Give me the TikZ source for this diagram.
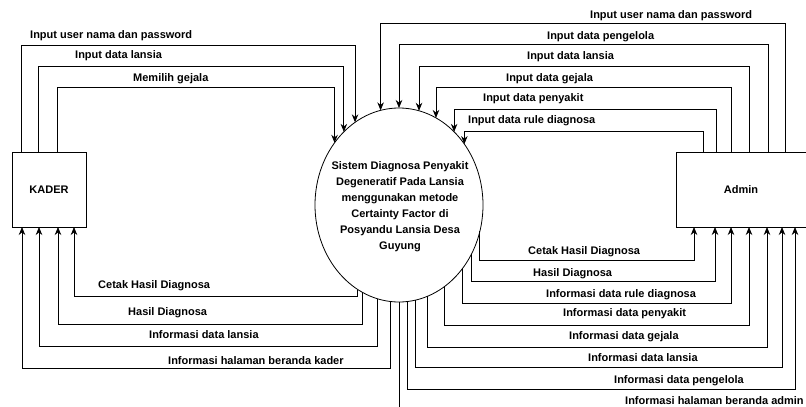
\documentclass[tikz,border=0pt]{standalone}
\usepackage{fontspec}
\setmainfont{Liberation Sans}
\usetikzlibrary{shapes.geometric,arrows.meta}
\begin{document}
\begin{tikzpicture}[x=1pt,y=-1pt,
  conn/.style={line width=0.8pt},
  arr/.style={conn,-{Stealth[length=8pt,width=6.5pt]}},
  lbl/.style={font=\fontsize{11}{13}\selectfont\bfseries, anchor=mid west, inner sep=0pt},
  entity/.style={draw, line width=0.8pt, inner sep=0pt, outer sep=0pt, minimum height=75pt,
    font=\fontsize{11}{13}\selectfont\bfseries},
  process/.style={draw, ellipse, line width=0.8pt, inner sep=0pt, outer sep=0pt,
    minimum width=168pt, minimum height=194pt},
  proctext/.style={font=\fontsize{11}{16}\selectfont\bfseries, align=center, inner sep=0pt}
]
\useasboundingbox (0,0) rectangle (806,407);

% nodes
\node[entity, minimum width=74pt] (kader) at (49,189.5) {KADER};
\node[entity, minimum width=130pt] (admin) at (741,189.5) {Admin};
\node[process] (ell) at (399,205) {};
\node[proctext] (elltxt) at (400,207) {Sistem Diagnosa Penyakit\\Degeneratif Pada Lansia\\menggunakan metode\\Certainty Factor di\\Posyandu Lansia Desa\\Guyung};
\coordinate (bottomend) at (399,407);

% KADER -> process
\draw[arr] ([xshift=9pt]kader.north west) -- ++(0,-107) -| (ell.118.8);
\draw[arr] ([xshift=26pt]kader.north west) -- ++(0,-86) -| (ell.127.8);
\draw[arr] ([xshift=45pt]kader.north west) -- ++(0,-65) -| (ell.136.6);
\node[lbl] (l1) at (30,36) {Input user nama dan password};
\node[lbl] (l2) at (75,56) {Input data lansia};
\node[lbl] (l3) at (133,79) {Memilih gejala};

% Admin -> process
\draw[arr] ([xshift=109pt]admin.north west) -- ++(0,-129) -| (ell.101.4);
\draw[arr] ([xshift=92pt]admin.north west) -- ++(0,-108) -| (ell.north);
\draw[arr] ([xshift=73pt]admin.north west) -- ++(0,-86) -| (ell.78.6);
\draw[arr] ([xshift=55pt]admin.north west) -- ++(0,-65) -| (ell.67.0);
\draw[arr] ([xshift=40pt]admin.north west) -- ++(0,-43) -| (ell.53.1);
\draw[arr] ([xshift=27pt]admin.north west) -- ++(0,-21) -| (ell.43.4);
\node[lbl] (r1) at (590,16) {Input user nama dan password};
\node[lbl] (r2) at (547,37) {Input data pengelola};
\node[lbl] (r3) at (527,57) {Input data lansia};
\node[lbl] (r4) at (506,79) {Input data gejala};
\node[lbl] (r5) at (483,99) {Input data penyakit};
\node[lbl] (r6) at (468,121) {Input data rule diagnosa};

% process -> KADER
\draw[arr] (ell.244.9) -- (ell.244.9 |- 0,296) -| ([xshift=62pt]kader.south west);
\draw[arr] (ell.247.7) -- (ell.247.7 |- 0,324) -| ([xshift=46pt]kader.south west);
\draw[arr] (ell.257.4) -- (ell.257.4 |- 0,346) -| ([xshift=27pt]kader.south west);
\draw[arr] (ell.265.3) -- (ell.265.3 |- 0,368) -| ([xshift=10pt]kader.south west);
\node[lbl] (b1) at (98,286) {Cetak Hasil Diagnosa};
\node[lbl] (b2) at (128,313) {Hasil Diagnosa};
\node[lbl] (b3) at (149,336) {Informasi data lansia};
\node[lbl] (b4) at (168,362) {Informasi halaman beranda kader};

% process -> Admin
\draw[arr] (ell.342.4) -- (ell.342.4 |- 0,260) -| ([xshift=18pt]admin.south west);
\draw[arr] (ell.326.7) -- (ell.326.7 |- 0,281) -| ([xshift=39pt]admin.south west);
\draw[arr] (ell.315.5) -- (ell.315.5 |- 0,303) -| ([xshift=55pt]admin.south west);
\draw[arr] (ell.299.5) -- (ell.299.5 |- 0,325) -| ([xshift=73pt]admin.south west);
\draw[arr] (ell.287.7) -- (ell.287.7 |- 0,347) -| ([xshift=91pt]admin.south west);
\draw[arr] (ell.280.8) -- (ell.280.8 |- 0,367) -| ([xshift=106pt]admin.south west);
\draw[arr] (ell.275.3) -- (ell.275.3 |- 0,389) -| ([xshift=119pt]admin.south west);
\draw[conn] (ell.south) -- (bottomend);
\node[lbl] (c1) at (528,252) {Cetak Hasil Diagnosa};
\node[lbl] (c2) at (533,274) {Hasil Diagnosa};
\node[lbl] (c3) at (546,295) {Informasi data rule diagnosa};
\node[lbl] (c4) at (563,314) {Informasi data penyakit};
\node[lbl] (c5) at (569,337) {Informasi data gejala};
\node[lbl] (c6) at (588,359) {Informasi data lansia};
\node[lbl] (c7) at (614,381) {Informasi data pengelola};
\node[lbl] (c8) at (625,402) {Informasi halaman beranda admin};
\end{tikzpicture}
\end{document}
